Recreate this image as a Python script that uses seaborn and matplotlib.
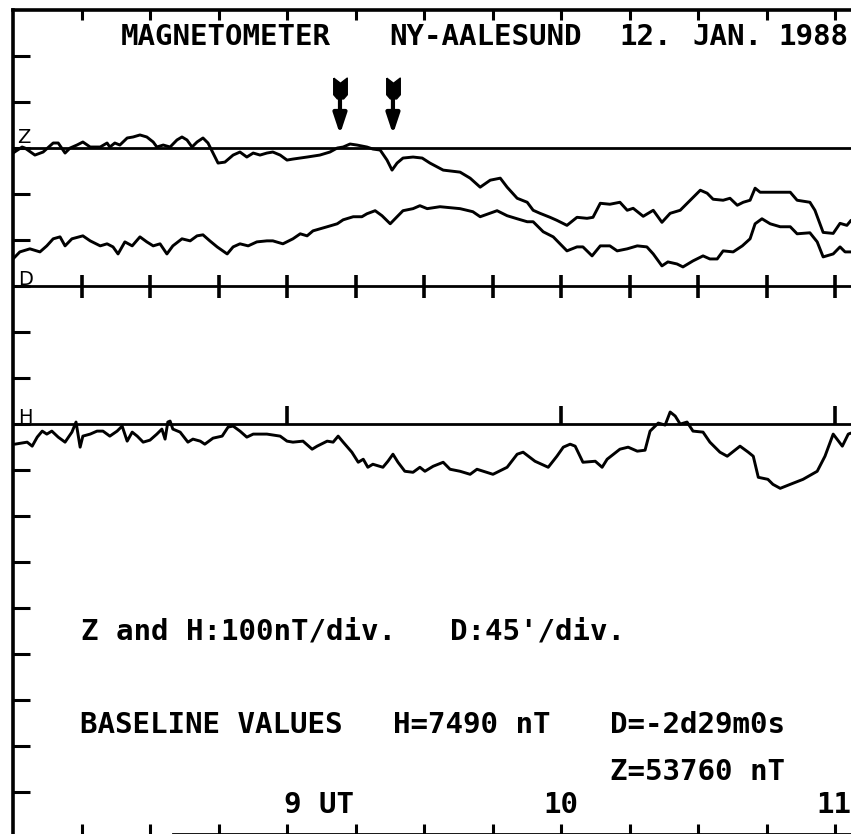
import numpy as np
import pandas as pd
import seaborn as sns
import matplotlib.pyplot as plt
from matplotlib.path import Path

# Ny-Aalesund magnetogram, 12 Jan 1988, 08:00-11:04 UT
# time in minutes after 08:00 UT, Z and H in nT from baseline, D in arcmin
z_minutes = [0, 2.0, 2.6, 4.8, 6.6, 8.8, 9.9, 11.4, 12.5, 14.0, 15.3, 16.9, 19.1, 20.6, 21.2,
             22.3, 23.4, 25.0, 26.3, 27.8, 29.3, 30.7, 31.5, 32.9, 34.4, 35.9, 37.0, 38.1,
             39.2, 40.3, 41.6, 42.7, 43.8, 44.9, 46.4, 48.2, 49.7, 51.2, 52.6, 54.1, 55.6,
             56.9, 58.5, 60.0, 61.3, 64.4, 67.2, 69.4, 71.0, 72.3, 73.8, 75.3, 77.5, 78.8,
             80.4, 81.9, 83.0, 84.1, 85.4, 87.6, 89.6, 91.3, 94.2, 97.9, 100.1, 102.3, 104.5,
             106.7, 108.2, 110.4, 112.6, 113.9, 115.4, 117.6, 119.1, 121.3, 123.5, 125.7,
             127.0, 128.6, 130.7, 132.9, 134.5, 135.8, 138.0, 140.2, 142.1, 143.9, 146.1,
             148.3, 150.5, 152.0, 153.3, 155.5, 157.0, 158.6, 159.9, 161.4, 162.5, 163.6,
             166.4, 170.2, 171.7, 174.5, 175.6, 177.4, 179.6, 181.1, 182.6, 183.5]
z_nt = [-10.9, 2.2, 0, -15.3, -8.7, 10.9, 10.9, -10.9, 0, 6.5, 13.1, 2.2, 2.2, 10.9, 2.2,
        10.9, 6.5, 21.8, 24.0, 28.4, 24.0, 13.1, 2.2, 6.5, 2.2, 17.5, 24.0, 17.5,
        2.2, 13.1, 21.8, 10.9, -10.9, -32.7, -30.6, -15.3, -8.7, -19.6, -10.9, -15.3, -10.9,
        -8.7, -15.3, -26.2, -24.0, -19.6, -15.3, -8.7, 0, 2.2, 8.7, 6.5, 2.2, -2.2,
        -4.4, -26.2, -48.0, -32.7, -21.8, -19.6, -21.8, -32.7, -48.0, -52.4, -65.5, -85.1, -69.9,
        -65.5, -85.1, -109.2, -117.9, -135.3, -141.9, -150.6, -157.2, -168.1, -150.6, -152.8,
        -150.6, -120.1, -122.2, -117.9, -135.3, -131.0, -148.4, -135.3, -161.5, -141.9, -135.3,
        -113.5, -91.7, -98.2, -111.3, -113.5, -109.2, -124.4, -117.9, -113.5, -87.3, -96.1,
        -96.1, -96.1, -113.5, -117.9, -135.3, -183.4, -185.6, -163.7, -168.1, -157.2]

d_minutes = [0, 1.5, 3.7, 5.9, 7.4, 8.8, 10.3, 11.4, 12.9, 15.3, 16.9, 19.1, 20.6, 21.9, 23.0,
             24.5, 26.1, 27.8, 29.3, 30.7, 32.2, 33.7, 35.0, 37.0, 38.8, 40.3, 41.6, 43.1,
             44.7, 46.9, 48.2, 49.7, 51.5, 53.4, 55.6, 56.9, 59.1, 61.3, 62.9, 64.4, 65.7,
             68.8, 71.0, 72.3, 74.5, 76.4, 77.5, 79.3, 80.8, 82.6, 84.1, 85.4, 87.6, 89.1,
             90.7, 93.5, 97.9, 100.7, 102.3, 106.0, 108.2, 110.4, 112.6, 113.9, 116.1, 118.3,
             121.3, 123.5, 124.8, 126.8, 128.6, 130.7, 132.3, 134.5, 136.7, 138.8, 140.2,
             142.1, 143.4, 145.4, 146.7, 148.9, 151.1, 152.6, 154.2, 155.5, 157.7, 159.7,
             161.4, 162.5, 164.0, 165.8, 168.0, 170.2, 171.7, 174.5, 176.1, 177.4, 179.6,
             181.1, 182.2, 183.5]
d_arcmin = [26.5, 33.4, 36.4, 33.4, 39.3, 46.2, 48.1, 39.3, 46.2, 49.1, 44.2, 39.3, 41.3, 38.3, 31.4,
            43.2, 39.3, 48.1, 43.2, 39.3, 41.3, 31.4, 39.3, 46.2, 44.2, 49.1, 50.1, 44.2,
            38.3, 31.4, 38.3, 41.3, 39.3, 43.2, 44.2, 44.2, 41.3, 46.2, 51.1, 49.1, 54.0,
            58.0, 60.9, 64.8, 67.8, 67.8, 70.7, 73.7, 68.8, 60.9, 67.8, 73.7, 75.7, 78.6,
            75.7, 77.6, 75.7, 72.7, 67.8, 73.7, 68.8, 65.8, 62.9, 62.9, 53.1, 48.1,
            34.4, 38.3, 38.3, 29.5, 39.3, 39.3, 34.4, 36.4, 39.3, 38.3, 31.4,
            19.7, 23.6, 21.6, 18.7, 24.6, 29.5, 26.5, 26.5, 34.4, 33.4, 39.3,
            46.2, 60.9, 65.8, 60.9, 58.0, 58.0, 51.1, 52.1, 43.2, 28.5, 31.4,
            38.3, 33.4, 33.4]

h_minutes = [0.4, 3.1, 4.2, 5.3, 6.4, 7.4, 8.5, 9.9, 11.4, 12.9, 13.8, 14.7, 15.3, 16.9, 18.4,
             19.7, 21.2, 22.8, 23.9, 25.0, 26.1, 27.2, 28.5, 30.0, 31.5, 32.6, 33.3, 33.9,
             34.4, 35.0, 36.6, 38.3, 39.4, 41.0, 42.0, 43.8, 45.8, 47.1, 48.2, 49.7, 51.2,
             52.6, 55.6, 58.5, 60.0, 61.3, 63.5, 65.5, 66.6, 68.8, 70.1, 71.2, 72.3, 74.2,
             75.6, 76.7, 77.7, 78.8, 81.0, 82.1, 83.2, 84.3, 85.8, 87.6, 89.1, 90.2, 92.0,
             94.2, 95.7, 97.9, 100.1, 101.6, 105.1, 108.2, 110.4, 111.7, 114.3, 117.2, 119.1,
             120.5, 122.0, 123.1, 124.8, 127.5, 129.0, 130.1, 132.9, 134.7, 136.7, 138.4,
             139.5, 141.3, 142.8, 143.9, 145.0, 146.1, 147.6, 148.9, 151.1, 152.6, 154.8,
             156.4, 159.2, 161.0, 162.1, 163.2, 165.3, 166.4, 168.0, 170.2, 173.0, 176.1,
             177.8, 179.6, 181.6, 182.9, 183.5]
h_nt = [-43.7, -39.3, -48.0, -28.4, -15.3, -21.8, -15.3, -28.4, -39.3, -17.5, 4.4, -50.2, -26.2, -21.8, -15.3,
        -15.3, -26.2, -15.3, -4.4, -37.1, -17.5, -26.2, -39.3, -34.9, -21.8, -10.9, -32.7, 4.4,
        6.5, -10.9, -17.5, -39.3, -32.7, -37.1, -43.7, -30.6, -26.2, -6.5, -4.4, -15.3, -28.4,
        -21.8, -21.8, -26.2, -37.1, -39.3, -37.1, -54.6, -48.0, -37.1, -39.3, -26.2, -39.3, -61.1,
        -83.0, -76.4, -93.9, -87.3, -93.9, -80.8, -65.5, -83.0, -102.6, -104.8, -93.9, -102.6, -91.7,
        -83.0, -98.2, -102.6, -109.2, -98.2, -109.2, -93.9, -65.5, -61.1, -80.8, -93.9, -69.9,
        -50.2, -43.7, -48.0, -83.0, -80.8, -93.9, -76.4, -54.6, -50.2, -58.9, -56.8,
        -15.3, 2.2, -2.2, 26.2, 17.5, 0, 4.4, -15.3, -17.5, -39.3, -61.1,
        -69.9, -48.0, -61.1, -69.9, -115.7, -120.1, -131.0, -139.7, -131.0, -120.1, -102.6,
        -69.9, -21.8, -48.0, -21.8, -19.6]

# event arrows (minutes after 08 UT)
arrow_minutes = [71.6, 83.2]

quarter_hours = list(range(15, 181, 15))
hours = [60, 120, 180]

# trace baselines in divisions, 100 nT/div for Z and H, 45'/div for D
z_base, d_base, h_base = 15, 12, 9

df = pd.concat([
    pd.DataFrame({"minute": z_minutes, "trace": z_base + np.array(z_nt) / 100, "comp": "Z"}),
    pd.DataFrame({"minute": d_minutes, "trace": d_base + np.array(d_arcmin) / 45, "comp": "D"}),
    pd.DataFrame({"minute": h_minutes, "trace": h_base + np.array(h_nt) / 100, "comp": "H"}),
])

sns.set_style("white")
plt.rcParams["font.family"] = ["DejaVu Sans"]

W, H = 851, 834
fig = plt.figure(figsize=(W / 100, H / 100), dpi=100)
ax = fig.add_axes([13 / W, 0, 1 - 13 / W, 824 / H])

sns.lineplot(data=df, x="minute", y="trace", units="comp", estimator=None,
             sort=False, color="black", linewidth=2.1, ax=ax)

for base in (z_base, d_base, h_base):
    ax.axhline(base, color="black", linewidth=2.0)

# tick marks across the D axis line and hour ticks on the H line
ax.vlines(quarter_hours, d_base - 0.25, d_base + 0.25, color="black", linewidth=2.6)
ax.vlines(hours, h_base, h_base + 0.4, color="black", linewidth=2.6)

# arrows marking the events
fletch = Path([(-0.65, 1.0), (0, 0.5), (0.65, 1.0), (0.65, -0.6), (0.3, -1.0),
               (-0.3, -1.0), (-0.65, -0.6), (-0.65, 1.0)])
for m in arrow_minutes:
    ax.annotate("", xy=(m, 15.3), xytext=(m, 16.2),
                arrowprops=dict(arrowstyle="-|>,head_length=0.6,head_width=0.2",
                                color="black", lw=3.0, shrinkA=0, shrinkB=0,
                                mutation_scale=20))
    ax.plot([m], [16.3], marker=fletch, markersize=15, color="black")

ax.set_xlim(0, 183.5)
ax.set_ylim(0.09, 18)
ax.set_xticks(quarter_hours)
ax.set_yticks(range(1, 18))
ax.set_xticklabels([])
ax.set_yticklabels([])
ax.tick_params(axis="x", direction="in", top=True, bottom=True, length=7, width=2.2, color="black")
ax.tick_params(axis="y", direction="in", left=True, right=False, length=12, width=2.2, color="black")
ax.set_xlabel("")
ax.set_ylabel("")
for side in ("left", "top"):
    ax.spines[side].set_linewidth(2.6)
    ax.spines[side].set_color("black")
ax.spines["right"].set_visible(False)
ax.spines["bottom"].set_linewidth(2.0)
ax.spines["bottom"].set_color("black")
ax.spines["bottom"].set_bounds(35, 183.5)


def put(x, y, s, ha="left", size=21, weight="bold", family="DejaVu Sans Mono"):
    fig.text(x / W, 1 - y / H, s, ha=ha, va="baseline", size=size,
             weight=weight, family=family, color="black")


put(121, 45, "MAGNETOMETER")
put(389, 45, "NY-AALESUND")
put(619, 45, "12.")
put(692, 45, "JAN.")
put(778, 45, "1988")

put(17, 143, "Z", size=14, weight="normal", family="DejaVu Sans")
put(18, 285, "D", size=14, weight="normal", family="DejaVu Sans")
put(18, 423, "H", size=14, weight="normal", family="DejaVu Sans")

put(81, 639, "Z and H:100nT/div.")
put(450, 639, "D:45'/div.")
put(80, 733, "BASELINE VALUES")
put(393, 733, "H=7490 nT")
put(610, 733, "D=-2d29m0s")
put(610, 780, "Z=53760 nT")
put(284, 813, "9 UT")
put(561, 813, "10", ha="center")
put(834, 813, "11", ha="center")

fig.savefig("out.png", dpi=100)
